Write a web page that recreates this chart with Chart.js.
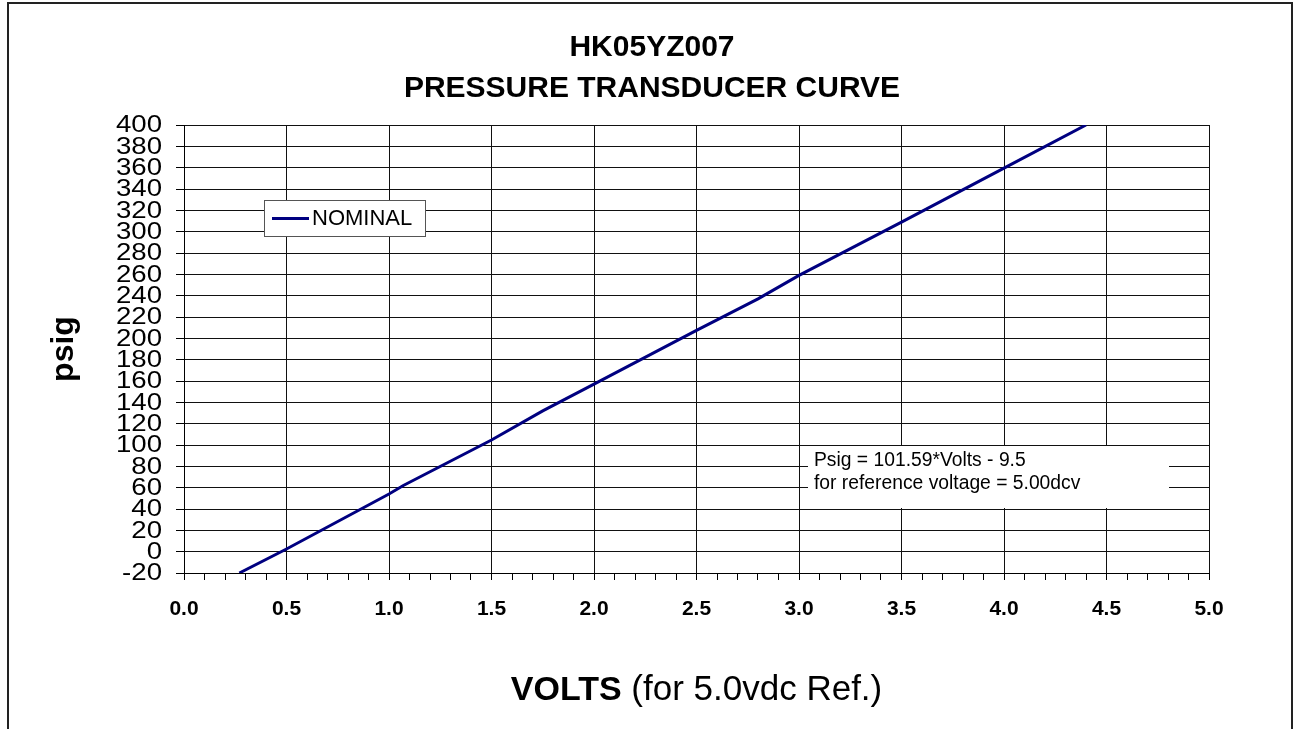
<!DOCTYPE html>
<html>
<head>
<meta charset="utf-8">
<script src="https://cdn.jsdelivr.net/npm/chart.js@4.4.1/dist/chart.umd.min.js"></script>
<style>
  html, body { margin: 0; padding: 0; background: #fff; }
  body { width: 1294px; height: 729px; position: relative; overflow: hidden;
         font-family: "Liberation Sans", Arial, sans-serif; color: #000; }
  #c { position: absolute; left: 0; top: 0; }
  #frame { position: absolute; left: 7px; top: 2px; width: 1286px; height: 800px;
           border: 2px solid #222; border-bottom: none; box-sizing: border-box; }
  #title { position: absolute; left: 10px; width: 1284px; top: 25px; text-align: center;
           font-weight: bold; font-size: 30px; line-height: 41px; }
  #xtitle { position: absolute; left: 184px; width: 1025px; top: 666px; text-align: center;
            font-size: 35px; line-height: 44px; white-space: nowrap; }
  #xtitle b { font-size: 34px; }
  #legend { position: absolute; left: 264px; top: 200px; width: 162px; height: 37px;
            box-sizing: border-box; border: 1px solid #555; background: #fff; }
  #legend .sw { position: absolute; left: 7px; top: 16px; width: 37px; height: 3px; background: #000080; }
  #legend .tx { position: absolute; left: 47px; top: 4px; font-size: 22px; line-height: 26px; }
  #note { position: absolute; left: 808px; top: 446px; width: 361px; height: 62px; background: #fff; }
  #note div { position: absolute; left: 6px; font-size: 19.3px; line-height: 22px; white-space: nowrap; }
</style>
</head>
<body>
<canvas id="c" width="1294" height="729"></canvas>
<div id="frame"></div>
<div id="title">HK05YZ007<br>PRESSURE TRANSDUCER CURVE</div>
<div id="xtitle"><b>VOLTS</b> (for 5.0vdc Ref.)</div>
<div id="legend"><div class="sw"></div><div class="tx">NOMINAL</div></div>
<div id="note">
  <div style="top:3px">Psig = 101.59*Volts - 9.5</div>
  <div style="top:26px">for reference voltage = 5.00dcv</div>
</div>
<script>
// ---- data ----
const seriesName = "NOMINAL";
const volts = [0.27, 0.50, 1.00, 1.07, 1.50, 1.75, 2.00, 2.50, 2.80, 3.00, 3.50, 4.00, 4.40];
const psig  = [-20, 2.5, 54, 62, 104.7, 132, 157, 207.5, 237, 259, 309, 359.5, 400];
const xMin = 0, xMax = 5, xMinorStep = 0.1, xMajorEvery = 5;
const yMin = -20, yMax = 400, yStep = 20;

const FONT = "'Liberation Sans', Arial, sans-serif";

// y tick labels drawn horizontally stretched (as in the reference) at the scale's tick positions
const stretchedYLabels = {
  id: 'stretchedYLabels',
  afterDraw(chart) {
    const s = chart.scales.y;
    const ctx = chart.ctx;
    ctx.save();
    ctx.fillStyle = '#000';
    ctx.font = '23px ' + FONT;
    ctx.textAlign = 'right';
    ctx.textBaseline = 'middle';
    s.ticks.forEach(t => {
      const py = s.getPixelForValue(t.value);
      ctx.save();
      ctx.translate(s.right - 22, py + 1);
      ctx.scale(1.2, 1);
      ctx.fillText(String(t.value), 0, 0);
      ctx.restore();
    });
    ctx.restore();
  }
};

new Chart(document.getElementById('c'), {
  type: 'line',
  data: {
    datasets: [{
      label: seriesName,
      data: volts.map((v, i) => ({ x: v, y: psig[i] })),
      borderColor: '#000080',
      borderWidth: 3,
      pointRadius: 0,
      tension: 0,
      fill: false
    }]
  },
  options: {
    responsive: false,
    animation: false,
    devicePixelRatio: 1,
    layout: { padding: { top: 125, right: 85, left: 0, bottom: 0 } },
    plugins: { legend: { display: false }, title: { display: false }, tooltip: { enabled: false } },
    scales: {
      x: {
        type: 'linear', min: xMin, max: xMax,
        afterFit(s) { s.height = 156; },
        border: { color: '#000', width: 1 },
        grid: {
          color: c => (c.index % xMajorEvery === 0 ? '#111' : 'rgba(0,0,0,0)'),
          tickColor: '#000', tickLength: 7, drawTicks: true
        },
        ticks: {
          stepSize: xMinorStep, autoSkip: false, maxRotation: 0, minRotation: 0,
          padding: 17, color: '#000',
          font: { family: FONT, size: 21, weight: 'bold' },
          callback: (v, i) => (i % xMajorEvery === 0 ? Number(v).toFixed(1) : '')
        }
      },
      y: {
        type: 'linear', min: yMin, max: yMax,
        afterFit(s) { s.width = 184; },
        border: { color: '#000', width: 1 },
        grid: { color: '#111', tickColor: '#000', tickLength: 8 },
        ticks: { stepSize: yStep, display: false },
        title: {
          display: true, text: 'psig', color: '#000',
          font: { family: FONT, size: 32, weight: 'bold' },
          padding: { top: 45, bottom: 0 }
        }
      }
    }
  },
  plugins: [stretchedYLabels]
});
</script>
</body>
</html>
